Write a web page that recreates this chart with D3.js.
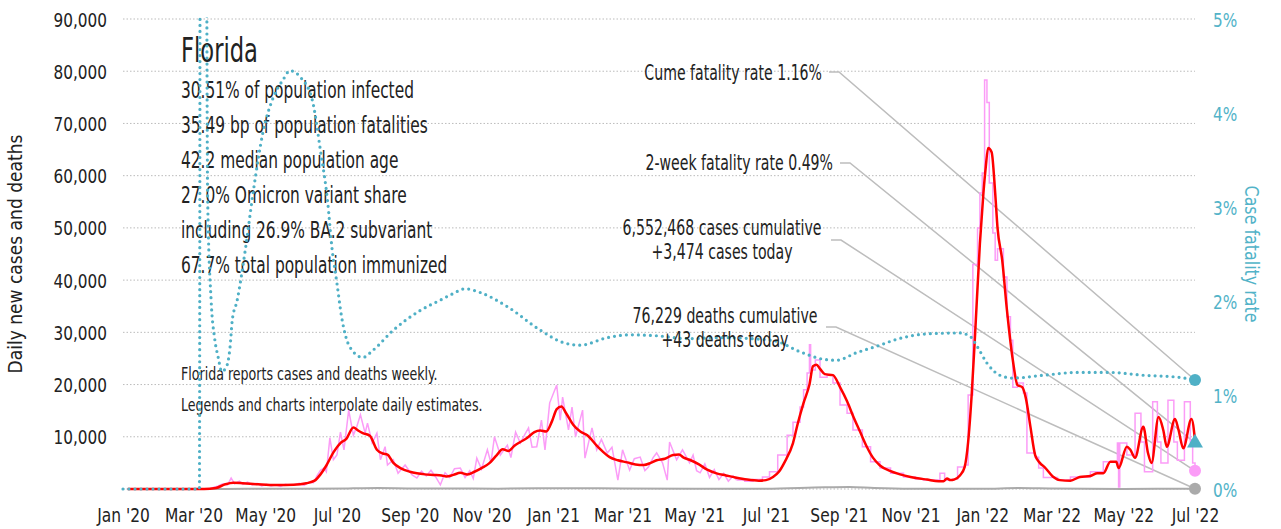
<!DOCTYPE html>
<html>
<head>
<meta charset="utf-8">
<title>Florida</title>
<script src="https://d3js.org/d3.v7.min.js"></script>
<style>
  body { margin: 0; background: #fff; }
  svg text { font-family: "Liberation Sans Narrow", "DejaVu Sans Condensed", sans-serif; fill: #222; }
</style>
</head>
<body>
<div id="chart"></div>
<script>
// ---- data ----
// daily new cases, daily reporting era
const pinkDaily = [
  ["2020-01-05",0],["2020-03-01",0],["2020-03-15",100],["2020-03-22",600],["2020-03-26",1000],["2020-03-30",800],
  ["2020-04-02",2100],["2020-04-05",1000],["2020-04-09",1500],["2020-04-12",900],["2020-04-16",1300],["2020-04-20",800],
  ["2020-04-24",1100],["2020-04-28",600],["2020-05-02",900],["2020-05-06",600],["2020-05-10",800],["2020-05-14",500],
  ["2020-05-18",900],["2020-05-22",700],["2020-05-26",800],["2020-05-30",1100],["2020-06-03",700],["2020-06-07",1300],
  ["2020-06-11",1200],["2020-06-14",2500],["2020-06-17",3600],["2020-06-20",4000],["2020-06-22",3300],["2020-06-25",9800],
  ["2020-06-28",5600],["2020-07-01",6500],["2020-07-04",10900],["2020-07-07",7500],["2020-07-11",15100],["2020-07-15",10300],
  ["2020-07-18",12000],["2020-07-21",14200],["2020-07-25",10700],["2020-07-27",12600],["2020-07-31",8800],["2020-08-04",10700],
  ["2020-08-07",5600],["2020-08-11",8100],["2020-08-13",4600],["2020-08-18",5600],["2020-08-22",3000],["2020-08-28",4600],
  ["2020-09-03",2700],["2020-09-07",2100],["2020-09-11",3400],["2020-09-15",2500],["2020-09-19",3600],["2020-09-23",2300],
  ["2020-09-27",800],["2020-10-01",3100],["2020-10-05",2200],["2020-10-09",3900],["2020-10-14",4000],["2020-10-18",2200],
  ["2020-10-22",3500],["2020-10-25",2000],["2020-10-28",5900],["2020-11-01",3800],["2020-11-06",7500],["2020-11-09",5000],
  ["2020-11-12",10000],["2020-11-17",6500],["2020-11-23",8400],["2020-11-26",6000],["2020-11-30",10900],["2020-12-04",8800],
  ["2020-12-08",10500],["2020-12-11",11700],["2020-12-14",8000],["2020-12-18",8100],["2020-12-22",13200],["2020-12-25",7500],
  ["2020-12-29",16500],["2021-01-04",19900],["2021-01-07",13200],["2021-01-09",17600],["2021-01-14",11300],["2021-01-17",15700],
  ["2021-01-20",10000],["2021-01-26",15100],["2021-01-28",5900],["2021-02-03",11700],["2021-02-07",7500],["2021-02-11",9500],
  ["2021-02-16",6900],["2021-02-20",8000],["2021-02-25",1700],["2021-03-01",7500],["2021-03-07",3600],["2021-03-11",5800],
  ["2021-03-16",6100],["2021-03-20",3500],["2021-03-23",4200],["2021-03-27",6000],["2021-03-30",6900],["2021-04-04",5000],
  ["2021-04-08",1700],["2021-04-10",9000],["2021-04-16",5600],["2021-04-21",7500],["2021-04-27",5000],["2021-04-30",6500],
  ["2021-05-03",3500],["2021-05-06",3100],["2021-05-10",4800],["2021-05-14",2200],["2021-05-18",3700],["2021-05-22",1800],
  ["2021-05-26",3000],["2021-05-30",1500],["2021-06-03",2500],["2021-06-06",1700]
];
// daily new cases, weekly reporting era (each value holds until the next date)
const pinkWeekly = [
  ["2021-06-06",1700],["2021-06-13",1500],["2021-06-20",1800],["2021-06-28",2300],["2021-07-04",3300],["2021-07-11",6500],
  ["2021-07-19",10300],["2021-07-24",12800],["2021-07-30",15700],["2021-08-02",19000],["2021-08-05",22200],["2021-08-07",27600],
  ["2021-08-08",22800],["2021-08-12",24700],["2021-08-16",21400],["2021-08-22",21800],["2021-08-27",20300],["2021-09-02",16100],
  ["2021-09-08",14500],["2021-09-13",11300],["2021-09-21",8100],["2021-09-28",5200],["2021-10-06",4000],["2021-10-15",3000],
  ["2021-10-26",2300],["2021-11-05",1900],["2021-11-12",1700],["2021-11-26",3000],["2021-11-30",1700],["2021-12-07",1900],
  ["2021-12-11",4200],["2021-12-17",4600],["2021-12-20",18000],["2021-12-24",43000],["2021-12-28",50000],["2021-12-30",56700],
  ["2022-01-01",60500],["2022-01-03",78300],["2022-01-05",74000],["2022-01-07",58600],["2022-01-10",49000],["2022-01-12",43800],
  ["2022-01-14",46000],["2022-01-19",40600],["2022-01-22",33000],["2022-01-25",28500],["2022-01-27",19500],["2022-01-31",20300],
  ["2022-02-05",18400],["2022-02-08",6900],["2022-02-15",6100],["2022-02-18",4000],["2022-02-22",2200],["2022-03-06",1700],
  ["2022-03-17",2300],["2022-04-03",3300],["2022-04-14",5200],["2022-04-26",8800],["2022-04-27",400],["2022-04-28",8800],
  ["2022-05-04",6500],["2022-05-11",14500],["2022-05-16",9000],["2022-05-19",3300],["2022-05-26",16700],["2022-05-30",9000],
  ["2022-06-02",5000],["2022-06-08",17000],["2022-06-13",9000],["2022-06-16",5500],["2022-06-22",16700],["2022-06-27",9000],
  ["2022-06-29",5000],["2022-07-01",3474]
];
// 7-day average of new cases
const avgCases = [
  ["2020-01-05",0],["2020-03-10",20],["2020-03-20",200],["2020-03-28",900],["2020-04-04",1200],["2020-04-12",1100],
  ["2020-04-25",900],["2020-05-10",750],["2020-05-25",800],["2020-06-05",1100],["2020-06-12",1600],["2020-06-17",2800],
  ["2020-06-22",4500],["2020-06-28",7000],["2020-07-04",8800],["2020-07-09",9600],["2020-07-15",11800],["2020-07-19",11200],
  ["2020-07-23",10700],["2020-07-29",10200],["2020-08-04",7500],["2020-08-09",6800],["2020-08-13",6600],["2020-08-18",5000],
  ["2020-08-24",4000],["2020-09-01",3300],["2020-09-07",3000],["2020-09-14",2800],["2020-09-21",2700],["2020-09-28",2600],
  ["2020-10-02",2400],["2020-10-08",2700],["2020-10-14",3100],["2020-10-20",2800],["2020-10-26",3300],["2020-11-01",4000],
  ["2020-11-08",5000],["2020-11-14",6500],["2020-11-19",7600],["2020-11-24",7300],["2020-11-29",8300],["2020-12-04",9000],
  ["2020-12-10",9800],["2020-12-16",10900],["2020-12-21",11200],["2020-12-26",11000],["2020-12-31",13000],["2021-01-04",15300],
  ["2021-01-08",15800],["2021-01-12",14500],["2021-01-18",12300],["2021-01-24",11000],["2021-01-30",10300],["2021-02-07",8300],
  ["2021-02-12",7200],["2021-02-18",6100],["2021-02-25",5500],["2021-03-05",5100],["2021-03-12",4700],["2021-03-19",4600],
  ["2021-03-25",5000],["2021-03-30",5500],["2021-04-06",5800],["2021-04-13",6500],["2021-04-18",6600],["2021-04-22",6000],
  ["2021-04-27",5600],["2021-05-05",4700],["2021-05-12",3700],["2021-05-20",3000],["2021-05-28",2600],["2021-06-05",2200],
  ["2021-06-15",1800],["2021-06-25",1600],["2021-07-01",1700],["2021-07-07",2300],["2021-07-12",3300],["2021-07-17",5200],
  ["2021-07-24",8800],["2021-07-28",12500],["2021-08-02",16500],["2021-08-07",20000],["2021-08-10",23500],["2021-08-13",23800],
  ["2021-08-16",23000],["2021-08-20",22000],["2021-08-27",21800],["2021-09-02",19500],["2021-09-08",16800],["2021-09-14",13500],
  ["2021-09-19",11000],["2021-09-25",8000],["2021-09-30",6000],["2021-10-06",4500],["2021-10-14",3500],["2021-10-23",2800],
  ["2021-11-01",2300],["2021-11-15",1800],["2021-11-25",1500],["2021-11-29",1500],["2021-12-02",2000],["2021-12-05",1700],
  ["2021-12-08",1800],["2021-12-13",2600],["2021-12-17",4200],["2021-12-20",9000],["2021-12-23",18000],["2021-12-26",30000],
  ["2021-12-30",47000],["2022-01-02",56700],["2022-01-04",61700],["2022-01-06",65300],["2022-01-09",64500],["2022-01-12",56700],
  ["2022-01-14",50000],["2022-01-18",43800],["2022-01-22",34300],["2022-01-27",24700],["2022-01-31",19900],["2022-02-04",19500],
  ["2022-02-07",17500],["2022-02-11",11900],["2022-02-15",6500],["2022-02-19",5000],["2022-02-23",4200],["2022-03-02",2400],
  ["2022-03-08",1700],["2022-03-17",1600],["2022-03-25",2300],["2022-04-03",2500],["2022-04-09",3000],["2022-04-14",3000],
  ["2022-04-20",5200],["2022-04-25",5200],["2022-04-27",4000],["2022-05-04",8100],["2022-05-07",7500],["2022-05-11",6000],
  ["2022-05-18",11900],["2022-05-22",6900],["2022-05-25",5000],["2022-05-31",13800],["2022-06-04",11300],["2022-06-07",8100],
  ["2022-06-14",13400],["2022-06-17",11300],["2022-06-21",7800],["2022-06-28",13400],["2022-07-01",9400]
];
// daily deaths
const deaths = [
  ["2020-01-05",0],["2020-03-15",0],["2020-04-15",50],["2020-06-01",40],["2020-07-15",120],["2020-08-05",180],
  ["2020-09-01",110],["2020-10-01",90],["2020-11-15",70],["2021-01-15",160],["2021-03-01",110],["2021-05-01",70],
  ["2021-07-01",40],["2021-08-20",330],["2021-09-10",380],["2021-10-01",200],["2021-11-01",60],["2022-01-01",40],
  ["2022-02-01",180],["2022-03-01",100],["2022-05-01",20],["2022-07-01",43]
];
// case fatality rate, percent
const fatality = [
  ["2020-01-01",0],["2020-03-06",0],["2020-03-07",10],["2020-03-11",10],["2020-03-13",3.1],["2020-03-16",2.0],
  ["2020-03-19",1.6],["2020-03-22",1.4],["2020-03-25",1.25],["2020-03-29",1.3],["2020-04-01",1.5],["2020-04-03",1.8],
  ["2020-04-07",2.0],["2020-04-14",2.54],["2020-04-21",3.18],["2020-04-29",3.79],["2020-05-08",4.17],["2020-05-16",4.35],
  ["2020-05-22",4.45],["2020-05-31",4.38],["2020-06-10",4.14],["2020-06-17",3.6],["2020-06-23",3.07],["2020-06-27",2.54],
  ["2020-07-01",2.19],["2020-07-05",1.83],["2020-07-12",1.51],["2020-07-23",1.40],["2020-08-01",1.48],["2020-08-18",1.69],
  ["2020-09-10",1.9],["2020-09-27",2.01],["2020-10-08",2.08],["2020-10-18",2.13],["2020-10-31",2.09],["2020-11-23",1.94],
  ["2020-12-21",1.69],["2021-01-09",1.56],["2021-01-24",1.53],["2021-02-16",1.61],["2021-03-07",1.64],["2021-03-30",1.63],
  ["2021-04-25",1.60],["2021-05-25",1.61],["2021-07-07",1.58],["2021-07-30",1.46],["2021-08-19",1.38],["2021-08-30",1.37],
  ["2021-09-16",1.45],["2021-10-06",1.53],["2021-10-17",1.58],["2021-11-15",1.65],["2021-12-13",1.66],["2021-12-22",1.62],
  ["2021-12-28",1.51],["2022-01-05",1.34],["2022-01-16",1.21],["2022-01-27",1.18],["2022-02-22",1.21],["2022-03-23",1.24],
  ["2022-04-20",1.24],["2022-05-18",1.21],["2022-06-16",1.19],["2022-07-01",1.16]
];

const leftTicks = [10000,20000,30000,40000,50000,60000,70000,80000,90000];
const rightTicks = [0,1,2,3,4,5];
const statLines = [
  "30.51% of population infected",
  "35.49 bp of population fatalities",
  "42.2 median population age",
  "27.0% Omicron variant share",
  "including 26.9% BA.2 subvariant",
  "67.7% total population immunized"
];
const notes = ["Florida reports cases and deaths weekly.", "Legends and charts interpolate daily estimates."];

const cumeRate = 1.16, twoWeekRate = 0.49, casesToday = 3474, deathsToday = 43;
const lastDate = "2022-07-01";

// ---- chart ----
const W = 1281, H = 529;
const m = {top: 19, right: 86, bottom: 40, left: 123};
const parse = d3.timeParse("%Y-%m-%d");

// the reference type is a condensed face; squeeze the text horizontally around its anchor
function squeeze(sel, k) {
  sel.each(function() {
    const t = d3.select(this);
    const ax = +t.attr("x") || 0, ay = +t.attr("y") || 0;
    t.attr("transform", `translate(${ax},${ay}) scale(${k},1) translate(${-ax},${-ay})`);
  });
}

const svg = d3.select("#chart").append("svg").attr("width", W).attr("height", H);

const x = d3.scaleTime().domain([parse("2020-01-01"), parse(lastDate)]).range([m.left, W - m.right]);
const y = d3.scaleLinear().domain([0, 90000]).range([H - m.bottom, m.top]);
const yR = d3.scaleLinear().domain([0, 5]).range([H - m.bottom, m.top]);

svg.append("defs").append("clipPath").attr("id", "plot")
  .append("rect").attr("x", m.left - 5).attr("y", m.top - 2).attr("width", W - m.left - m.right + 10).attr("height", H - m.top - m.bottom + 6);

// grid
svg.append("g").selectAll("line").data([0].concat(leftTicks)).join("line")
  .attr("x1", m.left).attr("x2", W - m.right)
  .attr("y1", d => y(d)).attr("y2", d => y(d))
  .attr("stroke", "#bbb").attr("stroke-width", 1).attr("stroke-dasharray", "1.5,2");

// left axis
svg.append("g").attr("transform", `translate(${m.left - 16},0)`)
  .call(d3.axisLeft(y).tickValues(leftTicks).tickSize(0).tickFormat(d3.format(",")))
  .call(g => g.select(".domain").remove())
  .selectAll("text").attr("font-size", 20).attr("dy", "0.35em").attr("x", 0).attr("fill", "#222")
  .call(squeeze, 0.85);

// right axis
svg.append("g").attr("transform", `translate(${W - m.right + 18},0)`)
  .call(d3.axisRight(yR).tickValues(rightTicks).tickSize(0).tickFormat(d => d + "%"))
  .call(g => g.select(".domain").remove())
  .selectAll("text").attr("font-size", 20).attr("dy", "0.35em").attr("x", 0).style("fill", "#52b3c8")
  .call(squeeze, 0.85);

// bottom axis
svg.append("g").attr("transform", `translate(0,${H - m.bottom + 10})`)
  .call(d3.axisBottom(x).ticks(d3.timeMonth.every(2)).tickSize(0).tickFormat(d3.timeFormat("%b '%y")))
  .call(g => g.select(".domain").remove())
  .selectAll("text").attr("font-size", 20).attr("dy", "1.0em").attr("fill", "#222")
  .call(squeeze, 0.86);

// axis titles
svg.append("text").attr("transform", `translate(22,${(m.top + H - m.bottom) / 2}) rotate(-90)`)
  .attr("text-anchor", "middle").attr("font-size", 19).text("Daily new cases and deaths");
svg.append("text").attr("transform", `translate(${W - 36},${(m.top + H - m.bottom) / 2}) rotate(90) scale(0.93,1)`)
  .attr("text-anchor", "middle").attr("font-size", 19).style("fill", "#52b3c8").text("Case fatality rate");

// text block
const tx = 181;
svg.append("text").attr("x", tx).attr("y", 62).attr("font-size", 34).text("Florida").call(squeeze, 0.74);
svg.append("g").selectAll("text").data(statLines).join("text")
  .attr("x", tx).attr("y", (d, i) => 98 + i * 35).attr("font-size", 23).text(d => d)
  .call(squeeze, 0.745);
svg.append("g").selectAll("text").data(notes).join("text")
  .attr("x", tx).attr("y", (d, i) => 380 + i * 31).attr("font-size", 18).text(d => d)
  .call(squeeze, 0.78);

// leader lines and annotation labels
const tEnd = parse(lastDate);
const anns = [
  {lines: ["Cume fatality rate 1.16%"], anchor: "end", tx: 822, ty: 80, lx: 829, ly: 72, px: x(tEnd), py: yR(cumeRate)},
  {lines: ["2-week fatality rate 0.49%"], anchor: "end", tx: 833, ty: 170, lx: 840, ly: 163, px: x(tEnd), py: yR(twoWeekRate)},
  {lines: ["6,552,468 cases cumulative", "+3,474 cases today"], anchor: "middle", tx: 722, ty: 235, lx: 831, ly: 240, px: x(tEnd), py: y(casesToday)},
  {lines: ["76,229 deaths cumulative", "+43 deaths today"], anchor: "middle", tx: 725, ty: 323, lx: 826, ly: 327, px: x(tEnd), py: y(deathsToday)}
];
const lg = svg.append("g");
anns.forEach(a => {
  lg.append("path").attr("d", `M${a.lx},${a.ly}H${a.lx + 10}L${a.px},${a.py}`)
    .attr("fill", "none").attr("stroke", "#bdbdbd").attr("stroke-width", 1.5);
});

// series
const plot = svg.append("g").attr("clip-path", "url(#plot)");
const toPts = arr => arr.map(d => [parse(d[0]), d[1]]);

plot.append("path").datum(toPts(pinkDaily))
  .attr("fill", "none").attr("stroke", "#fb9cf7").attr("stroke-width", 1.5)
  .attr("d", d3.line().x(d => x(d[0])).y(d => y(d[1])));
plot.append("path").datum(toPts(pinkWeekly))
  .attr("fill", "none").attr("stroke", "#fb9cf7").attr("stroke-width", 1.5)
  .attr("d", d3.line().curve(d3.curveStepAfter).x(d => x(d[0])).y(d => y(d[1])));

plot.append("path").datum(toPts(deaths))
  .attr("fill", "none").attr("stroke", "#aaa").attr("stroke-width", 2)
  .attr("d", d3.line().curve(d3.curveMonotoneX).x(d => x(d[0])).y(d => y(d[1])));

plot.append("path").datum(toPts(avgCases))
  .attr("fill", "none").attr("stroke", "#ff0000").attr("stroke-width", 2.5)
  .attr("d", d3.line().curve(d3.curveMonotoneX).x(d => x(d[0])).y(d => y(d[1])));

plot.append("path").datum(toPts(fatality))
  .attr("fill", "none").attr("stroke", "#4fb0c6").attr("stroke-width", 3.2)
  .attr("stroke-linecap", "round").attr("stroke-dasharray", "0,6")
  .attr("d", d3.line().curve(d3.curveMonotoneX).x(d => x(d[0])).y(d => yR(d[1])));

// end markers
svg.append("circle").attr("cx", x(tEnd)).attr("cy", yR(cumeRate)).attr("r", 6).attr("fill", "#4fb0c6");
svg.append("path").attr("transform", `translate(${x(tEnd)},${yR(twoWeekRate)})`)
  .attr("d", d3.symbol(d3.symbolTriangle, 110)).attr("fill", "#4fb0c6");
svg.append("circle").attr("cx", x(tEnd)).attr("cy", y(casesToday)).attr("r", 6).attr("fill", "#fb9cf7");
svg.append("circle").attr("cx", x(tEnd)).attr("cy", y(deathsToday)).attr("r", 6).attr("fill", "#aaa");

// annotation text
anns.forEach(a => {
  const t = svg.append("text").attr("text-anchor", a.anchor).attr("font-size", 20.5)
    .attr("x", a.tx).attr("y", a.ty);
  a.lines.forEach((s, i) => t.append("tspan").attr("x", a.tx).attr("y", a.ty + i * 24).text(s));
  squeeze(t, 0.765);
});
</script>
</body>
</html>
